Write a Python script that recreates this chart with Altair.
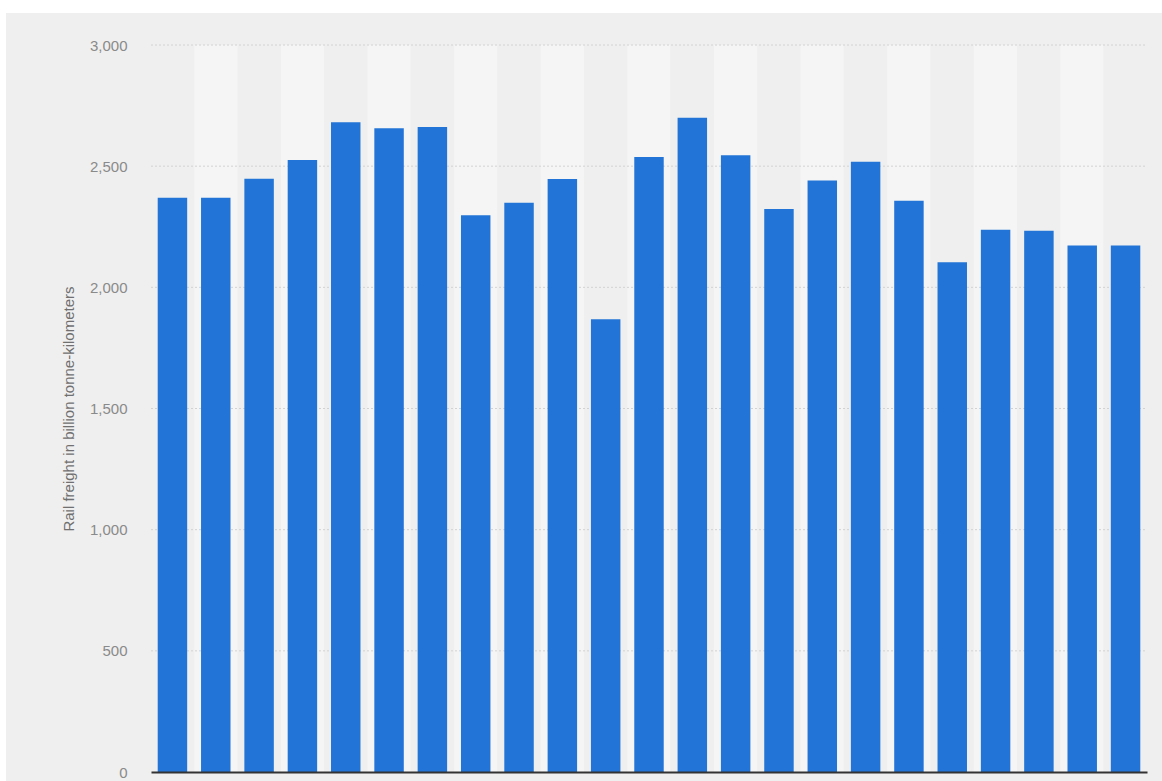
import altair as alt
import pandas as pd

categories = [str(i) for i in range(1, 24)]
values = [2370, 2370, 2448, 2525, 2681, 2656, 2662, 2297, 2349, 2447, 1868,
          2538, 2700, 2545, 2323, 2441, 2518, 2357, 2104, 2238, 2234, 2173, 2173]
stripe_shade = ["a" if i % 2 == 0 else "b" for i in range(23)]
grid_values = [500, 1000, 1500, 2000, 2500, 3000]

df = pd.DataFrame({"cat": categories, "value": values, "shade": stripe_shade})
gdf = pd.DataFrame({"g": grid_values})

W, H = 996, 727
PL, PT = 151, 45

white_top = alt.Chart(gdf).mark_rect(color="#ffffff").encode(
    x=alt.value(-PL), x2=alt.value(1162 - PL),
    y=alt.value(-PT), y2=alt.value(-PT + 13)
)
white_left = alt.Chart(gdf).mark_rect(color="#ffffff").encode(
    x=alt.value(-PL), x2=alt.value(-PL + 6),
    y=alt.value(-PT), y2=alt.value(781 - PT)
)

stripes = alt.Chart(df).mark_rect().encode(
    x=alt.X("cat:N", sort=categories, axis=None,
            scale=alt.Scale(paddingInner=0, paddingOuter=0)),
    y=alt.value(0), y2=alt.value(H),
    color=alt.Color("shade:N", legend=None,
                    scale=alt.Scale(domain=["a", "b"], range=["#efefef", "#f5f5f5"]))
)

grid = alt.Chart(gdf).mark_rule(color="#d2d2d2", strokeDash=[2, 2], strokeWidth=1).encode(
    y=alt.Y("g:Q"), x=alt.value(0), x2=alt.value(W)
)

bars = alt.Chart(df).mark_bar(color="#2374d7").encode(
    x=alt.X("cat:N", sort=categories,
            scale=alt.Scale(paddingInner=0.32, paddingOuter=0.155),
            axis=alt.Axis(labels=False, ticks=False, title=None, domain=True,
                          domainColor="#333333", domainWidth=2, grid=False, zindex=1)),
    y=alt.Y("value:Q", scale=alt.Scale(domain=[0, 3000], nice=False),
            axis=alt.Axis(values=[0, 500, 1000, 1500, 2000, 2500, 3000],
                          format=",.0f", ticks=False, domain=False, labelPadding=24,
                          labelColor="#8a8a8a", labelFont="Liberation Sans",
                          labelFontSize=15, grid=False, zindex=1,
                          title="Rail freight in billion tonne-kilometers",
                          titleColor="#707070", titleFont="Liberation Sans",
                          titleFontSize=15, titleFontWeight="normal",
                          titlePadding=13))
)

chart = alt.layer(white_top, white_left, stripes, grid, bars).resolve_scale(
    x="independent", color="independent"
).properties(
    width=W, height=H,
    autosize=alt.AutoSizeParams(type="none"),
    padding={"left": PL, "top": PT, "right": 1162 - PL - W, "bottom": 781 - PT - H},
    background="#efefef"
).configure_view(stroke=None, fill=None)

chart.save("out.html", embed_options={"renderer": "svg", "actions": False})
